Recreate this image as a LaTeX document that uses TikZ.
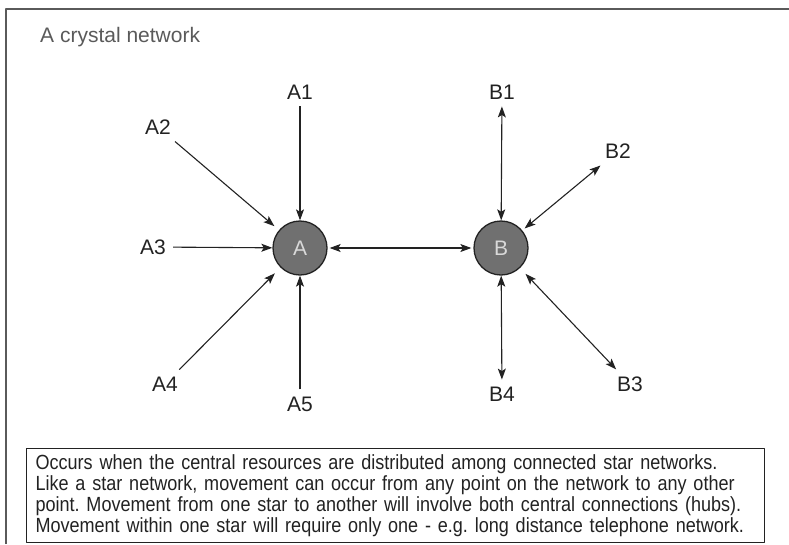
\documentclass[tikz,border=0pt]{standalone}
\usepackage{fontspec}
\setmainfont{Liberation Sans}
\newfontfamily\notefont{Liberation Sans}[FakeStretch=0.88]
\usetikzlibrary{arrows.meta}
\definecolor{hubfill}{HTML}{707070}
\definecolor{inkgray}{HTML}{222222}
\definecolor{framegray}{HTML}{5A5A5A}
\tikzset{
	hub/.style={circle,draw=inkgray,line width=1.3pt,fill=hubfill,minimum size=54pt,
		inner sep=0pt,text=white!85!black,font=\fontsize{21}{25}\selectfont},
	lbl/.style={inner sep=7pt,text=inkgray},
	link/.style={draw=inkgray,line width=1.1pt},
	note/.style={draw=inkgray,line width=1.1pt,align=left,text width=720pt,
		inner xsep=9pt,inner ysep=6pt,text=inkgray,
		font=\notefont\fontsize{20.5}{21}\selectfont}
}
\begin{document}
\frenchspacing
\begin{tikzpicture}[x=1pt,y=-1pt,>={Stealth[length=11pt,width=8pt,inset=2.5pt]},
	line join=round,font=\fontsize{21}{25}\selectfont]
	\useasboundingbox (0,0) rectangle (789,544);
	\path
	(6,544) coordinate (fl)
	(6,9) coordinate (fc)
	(789,9) coordinate (fr)
	;
	\draw[framegray,line width=2pt] (fl)--(fc)--(fr);
	\node[anchor=base west,inner sep=0pt,text=framegray] (title) at (40,42) {A crystal network};
	\node[hub] (A) at (300,248) {A};
	\node[hub] (B) at (501,248) {B};
	\foreach \l/\x/\y in {A1/300/92,A2/158/127,A3/153/247,A4/165/384,A5/300/404,
		B1/502/92,B2/618/151,B3/630/384,B4/502/394}
	\node[lbl] (\l) at (\x,\y) {\l};
	\foreach \l/\s in {A1/0,A2/6,A3/0,A4/8,A5/0}
	\draw[link,->,shorten >=\s pt] (\l)--(A);
	\foreach \l/\s in {B1/0,B2/3,B3/8,B4/0}
	\draw[link,<->,shorten <=\s pt] (B)--(\l);
	\draw[link,<->,shorten <=2pt,shorten >=2pt] (A)--(B);
	\node[note,anchor=north west] (note) at (26,448) {Occurs when the central resources are distributed among connected star networks.\\
		Like a star network, movement can occur from any point on the network to any other\\
		point. Movement from one star to another will involve both central connections (hubs).\\
		Movement within one star will require only one - e.g. long distance telephone network.};
\end{tikzpicture}
\end{document}
